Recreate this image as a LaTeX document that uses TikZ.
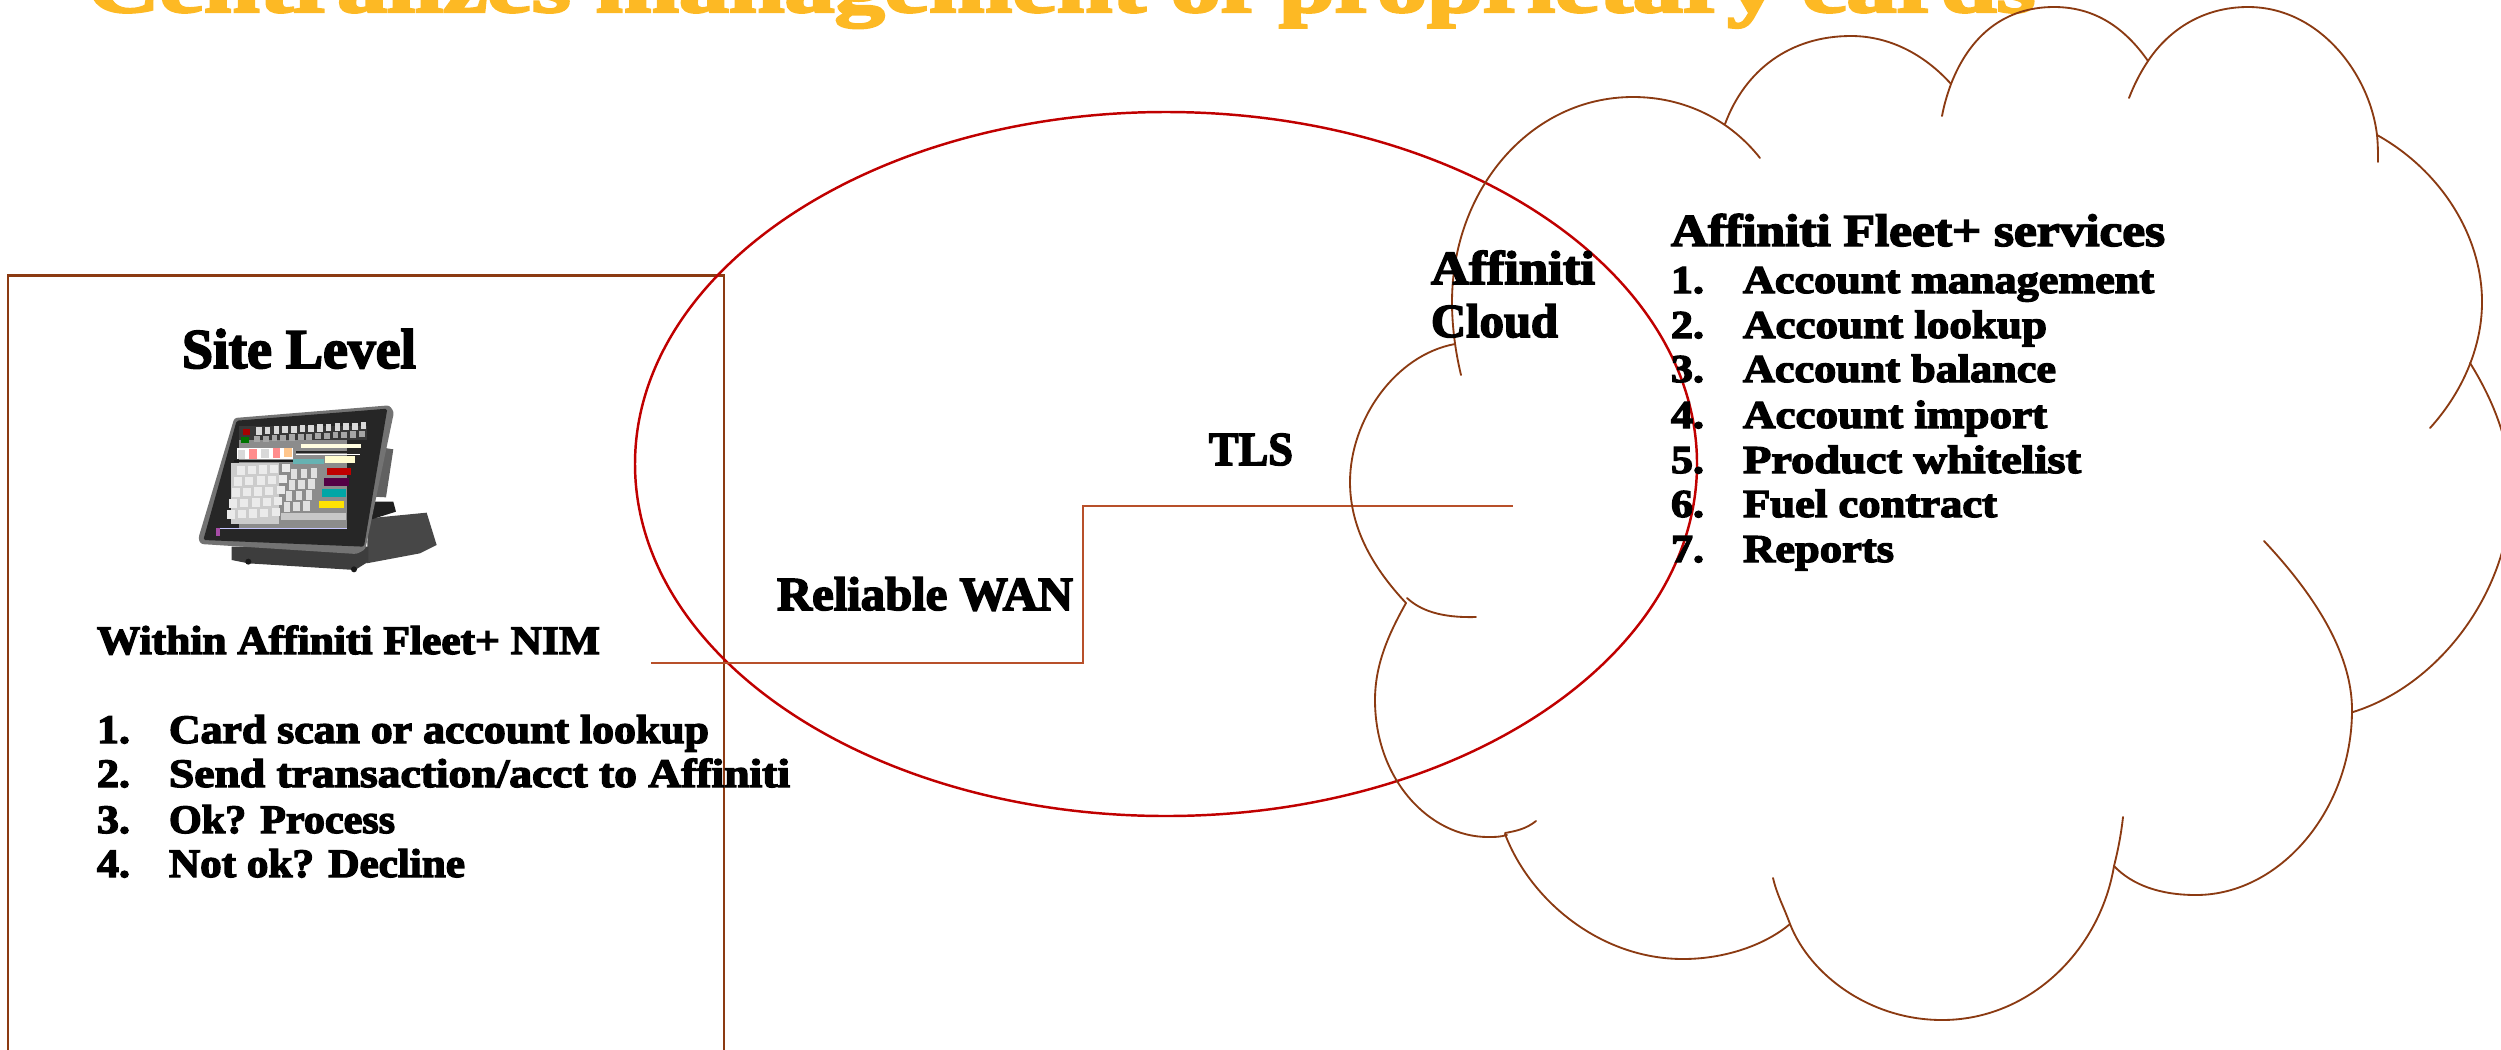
\documentclass[tikz,border=0pt]{standalone}
\usepackage{fontspec}
\usepackage{graphicx}
\setmainfont{Liberation Serif}[BoldFeatures={FakeBold=3.2}]
\definecolor{brownline}{HTML}{8B3A12}
\definecolor{connline}{HTML}{B8502A}
\definecolor{redline}{HTML}{C00000}
\definecolor{titlegold}{HTML}{FDB924}
\newcommand{\lbl}[6]{% name, x1, x2, baseline, size pt, text
  \node[lblstyle] (#1) at (#2,#4) {\fontsize{#5}{#5}\selectfont\bfseries
    \resizebox{\dimexpr 0.02cm*\numexpr #3-#2\relax\relax}{\height}{#6}};}
\tikzset{
  lblstyle/.style={anchor=base west,inner sep=0pt,outer sep=0pt,text=black},
  cloudarc/.style={draw=brownline,line width=1.05pt,line cap=round},
  box/.style={draw=brownline,line width=1.1pt},
  ringline/.style={draw=redline,line width=1.4pt},
  conn/.style={draw=connline,line width=0.9pt}
}
\begin{document}
\begin{tikzpicture}[x=0.02cm,y=-0.02cm]
\useasboundingbox (0,0) rectangle (2501,1049);
\clip (0,0) rectangle (2501,1049);
% title
\node[anchor=base west,inner sep=0pt,text=titlegold] (title) at (87,12)
  {\fontsize{42}{42}\selectfont\bfseries\resizebox{\dimexpr 0.02cm*1948\relax}{\height}{Centralizes management of proprietary cards}};
% site box
\draw[box] (8,275) rectangle (724,1090);
\draw[box,line width=1.7pt] (8,275) -- (724,275);
\node[circle,inner sep=0pt] (ringcentre) at (1166,464) {};
\draw[ringline] (ringcentre) ellipse [x radius=531,y radius=352];
% connector
\coordinate (connA) at (651,663);
\coordinate (connB) at (1513,506);
\draw[conn] (connA) -- (1083,663) -- (1083,506) -- (connB);
% cloud
\draw[cloudarc] (1461,375) .. controls (1455,350) and (1452,325) .. (1452,302) .. controls (1452,190) and (1530,97) .. (1633,97) .. controls (1685,97) and (1730,120) .. (1760,158);
\draw[cloudarc] (1725,124) .. controls (1745,70) and (1790,36) .. (1851,36) .. controls (1890,36) and (1925,55) .. (1951,84);
\draw[cloudarc] (1942,116) .. controls (1944,105) and (1947,95) .. (1951,84) .. controls (1970,35) and (2005,7) .. (2054,7) .. controls (2095,7) and (2125,28) .. (2148,61);
\draw[cloudarc] (2129,98) .. controls (2134,85) and (2140,73) .. (2148,61) .. controls (2170,28) and (2205,7) .. (2248,7) .. controls (2320,7) and (2370,75) .. (2377,135) .. controls (2378,145) and (2378,153) .. (2378,162);
\draw[cloudarc] (2377,135) .. controls (2440,170) and (2482,235) .. (2482,302) .. controls (2482,350) and (2460,395) .. (2430,428);
\draw[cloudarc] (2470,363) .. controls (2490,395) and (2511,440) .. (2511,490) .. controls (2511,590) and (2440,685) .. (2353,712);
\draw[cloudarc] (2264,541) .. controls (2310,590) and (2352,650) .. (2352,710) .. controls (2352,810) and (2280,895) .. (2196,895) .. controls (2160,895) and (2132,885) .. (2114,866);
\draw[cloudarc] (2123,817) .. controls (2121,835) and (2118,850) .. (2114,866) .. controls (2100,950) and (2030,1020) .. (1942,1020) .. controls (1870,1020) and (1810,975) .. (1790,924) .. controls (1783,905) and (1777,895) .. (1773,878);
\draw[cloudarc] (1790,924) .. controls (1765,945) and (1725,959) .. (1683,959) .. controls (1600,959) and (1530,900) .. (1505,834);
\draw[cloudarc] (1536,821) .. controls (1526,829) and (1516,831) .. (1505,833);
\draw[cloudarc] (1507,835) .. controls (1500,837) and (1495,837) .. (1488,837) .. controls (1430,837) and (1375,780) .. (1375,700) .. controls (1375,665) and (1388,635) .. (1406,603);
\draw[cloudarc] (1407,598) .. controls (1420,610) and (1440,618) .. (1476,617);
\draw[cloudarc] (1455,344) .. controls (1395,355) and (1350,420) .. (1350,482) .. controls (1350,530) and (1375,570) .. (1406,603);
% terminal picture
\begin{scope}[shift={(180,390)},x=0.00667cm,y=-0.00667cm]
  \fill[black!72] (565,385) -- (740,368) -- (770,465) -- (720,490) -- (560,520) -- cycle;
  \fill[black!76] (155,470) -- (155,510) -- (205,520) -- (525,540) -- (565,515) -- (565,470) -- cycle;
  \fill[black!90] (205,515) circle (9); \fill[black!90] (522,538) circle (9);
  \fill[black!88] (572,335) -- (640,335) -- (648,365) -- (575,388) -- cycle;
  \fill[black!62] (603,172) -- (640,178) -- (618,322) -- (580,320) -- cycle;
  \fill[black!55,rounded corners=1.5pt] (163,84) -- (628,46) -- (642,66) -- (556,478) -- (530,492) -- (62,462) -- (55,445) -- cycle;
  \fill[black!85,rounded corners=1pt] (170,92) -- (622,56) -- (552,470) -- (70,450) -- cycle;
  \begin{scope}[shift={(178,108)},x={(2.648cm,0.133cm)},y={(-0.5cm,-2.2cm)}]
    \fill[black!45] (0,0) rectangle (1,1);
    \fill[black!78] (0,0) rectangle (1,0.19);
    \fill[red!65!black] (0.03,0.03) rectangle (0.10,0.09);
    \fill[green!45!black] (0.03,0.10) rectangle (0.10,0.16);
    \foreach \k in {0,...,12}{
      \fill[black!15] ({0.13+\k*0.066},0.02) rectangle ({0.185+\k*0.066},0.09);
      \fill[black!35] ({0.13+\k*0.066},0.10) rectangle ({0.185+\k*0.066},0.16);
    }
    \fill[white] (0.02,0.20) rectangle (0.47,0.33);
    \foreach \k/\c in {0/black!15,1/red!45,2/black!15,3/red!45,4/orange!45}{
      \fill[\c] ({0.03+\k*0.088},0.22) rectangle ({0.105+\k*0.088},0.31);
    }
    \fill[black!90] (0.02,0.325) rectangle (0.47,0.34);
    \fill[black!20] (0,0.34) rectangle (0.47,0.92);
    \foreach \i in {0,...,4}{\foreach \j in {0,...,4}{
      \fill[white!92!black] ({0.05+\i*0.085},{0.37+\j*0.1}) rectangle ({0.125+\i*0.085},{0.45+\j*0.1});
    }}
    \fill[yellow!12] (0.50,0.19) rectangle (0.97,0.26);
    \fill[black!85] (0.48,0.27) rectangle (0.97,0.285);
    \fill[white] (0.48,0.285) rectangle (0.97,0.32);
    \fill[teal!60] (0.47,0.33) rectangle (0.71,0.39);
    \fill[yellow!18] (0.71,0.32) rectangle (0.95,0.39);
    \foreach \i in {0,...,2}{\foreach \j in {0,...,3}{
      \fill[black!12] ({0.47+\i*0.075},{0.42+\j*0.1}) rectangle ({0.535+\i*0.075},{0.51+\j*0.1});
    }}
    \fill[red!75!black] (0.74,0.43) rectangle (0.94,0.50);
    \fill[blue!45!red!60!black] (0.74,0.52) rectangle (0.94,0.60);
    \fill[teal!70!cyan] (0.74,0.62) rectangle (0.94,0.70);
    \fill[yellow!85!orange] (0.74,0.73) rectangle (0.94,0.80);
    \fill[black!22] (0.47,0.82) rectangle (0.98,0.91);
    \fill[blue!22] (0,0.93) rectangle (1,1);
    \fill[violet!70] (0,0.93) rectangle (0.04,1);
  \end{scope}
\end{scope}
% left text
\lbl{site}{182}{416}{368}{32}{Site Level}
\lbl{within}{97}{600}{654}{23}{Within Affiniti Fleet+ NIM}
\lbl{ln1}{97}{130}{743}{23}{1.}
\lbl{lt1}{169}{709}{743}{23}{Card scan or account lookup}
\lbl{ln2}{97}{130}{787}{23}{2.}
\lbl{lt2}{169}{790}{787}{23}{Send transaction/acct to Affiniti}
\lbl{ln3}{97}{130}{833}{23}{3.}
\lbl{lt3}{169}{395}{833}{23}{Ok? Process}
\lbl{ln4}{97}{130}{877}{23}{4.}
\lbl{lt4}{169}{465}{877}{23}{Not ok? Decline}
% middle text
\lbl{wan}{777}{1073}{610}{27}{Reliable WAN}
\lbl{tls}{1209}{1293}{465}{27}{TLS}
\lbl{aff}{1431}{1595}{284}{27}{Affiniti}
\lbl{cld}{1431}{1558}{337}{27}{Cloud}
% right text
\lbl{svc}{1671}{2165}{246}{26}{Affiniti Fleet+ services}
\lbl{rn1}{1671}{1704}{293}{22.5}{1.}
\lbl{rt1}{1743}{2154}{293}{22.5}{Account management}
\lbl{rn2}{1671}{1704}{338}{22.5}{2.}
\lbl{rt2}{1743}{2047}{338}{22.5}{Account lookup}
\lbl{rn3}{1671}{1704}{382}{22.5}{3.}
\lbl{rt3}{1743}{2056}{382}{22.5}{Account balance}
\lbl{rn4}{1671}{1704}{428}{22.5}{4.}
\lbl{rt4}{1743}{2047}{428}{22.5}{Account import}
\lbl{rn5}{1671}{1704}{473}{22.5}{5.}
\lbl{rt5}{1743}{2081}{473}{22.5}{Product whitelist}
\lbl{rn6}{1671}{1704}{517}{22.5}{6.}
\lbl{rt6}{1743}{1997}{517}{22.5}{Fuel contract}
\lbl{rn7}{1671}{1704}{562}{22.5}{7.}
\lbl{rt7}{1743}{1894}{562}{22.5}{Reports}
\end{tikzpicture}
\end{document}
